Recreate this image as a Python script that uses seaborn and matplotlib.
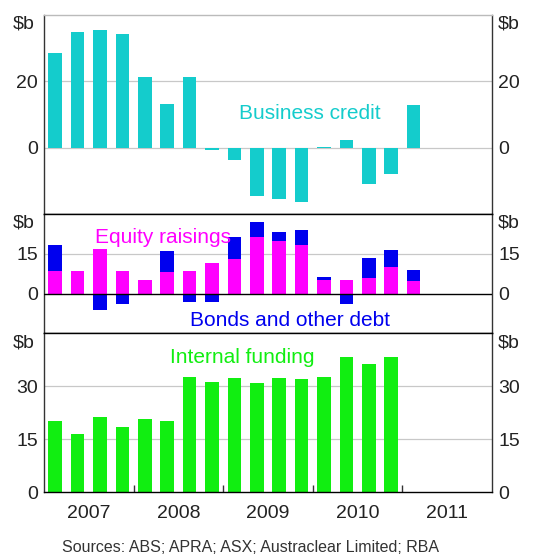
import matplotlib
matplotlib.use("Agg")
import matplotlib.pyplot as plt
import seaborn as sns
import numpy as np

# ---- data ----
years = ["2007", "2008", "2009", "2010", "2011"]
quarters = [f"{y}Q{q}" for y in years for q in range(1, 5)]

business_credit = [28.5, 34.8, 35.5, 34.2, 21.4, 13.2, 21.4, -0.6, -3.7,
                   -14.6, -15.5, -16.3, 0.3, 2.4, -11.0, -8.0, 12.8]
equity_raisings = [8.6, 8.6, 16.9, 8.6, 5.1, 8.1, 8.6, 11.5, 13.1,
                   21.4, 19.9, 18.3, 5.1, 5.1, 5.8, 10.0, 4.6]
bonds_debt = [9.7, 0.0, -6.2, -4.1, -0.5, 7.8, -3.2, -3.2, 8.3,
              5.4, 3.4, 5.5, 1.0, -4.1, 7.7, 6.4, 4.4]
internal_funding = [20.1, 16.5, 21.3, 18.4, 20.6, 20.1, 32.7, 31.3,
                    32.3, 30.9, 32.3, 32.1, 32.7, 38.3, 36.4, 38.3]

CYAN = "#14CCCC"
MAGENTA = "#FF00FF"
BLUE = "#0000EE"
GREEN = "#11EE11"

sns.set_theme(style="white")
plt.rcParams["font.family"] = ["Liberation Sans", "DejaVu Sans"]

fig = plt.figure(figsize=(5.53, 5.59), dpi=100)
gs = fig.add_gridspec(3, 1, height_ratios=[198, 119, 158], hspace=0,
                      left=44/553, right=492/553, top=1-15/559, bottom=1-492/559)
ax1 = fig.add_subplot(gs[0])
ax2 = fig.add_subplot(gs[1], sharex=ax1)
ax3 = fig.add_subplot(gs[2], sharex=ax1)

W = 0.6
bar_kw = dict(order=quarters, width=W, saturation=1, linewidth=0, errorbar=None)

# Top: business credit
sns.barplot(x=quarters[:len(business_credit)], y=business_credit, color=CYAN, ax=ax1, **bar_kw)

# Middle: equity + bonds stacked (positive bonds on top of equity)
bonds_stack = [e + b if b > 0 else b for e, b in zip(equity_raisings, bonds_debt)]
sns.barplot(x=quarters[:len(bonds_stack)], y=bonds_stack, color=BLUE, ax=ax2, **bar_kw)
sns.barplot(x=quarters[:len(equity_raisings)], y=equity_raisings, color=MAGENTA, ax=ax2, **bar_kw)

# Bottom: internal funding
sns.barplot(x=quarters[:len(internal_funding)], y=internal_funding, color=GREEN, ax=ax3, **bar_kw)

grid_c = "#c8c8c8"
spine_c = "#333333"
settings = [
    (ax1, (-20, 40), [0, 20], 20),
    (ax2, (-15, 30), [0, 15], 15),
    (ax3, (0, 45), [0, 15, 30], 15),
]
for ax, lim, ticks, step in settings:
    ax.set_ylim(*lim)
    ax.set_yticks(ticks)
    ax.set_yticklabels([str(t) for t in ticks])
    ax.set_xlim(-0.5, len(quarters) - 0.5)
    ax.set_xlabel("")
    ax.set_ylabel("")
    for g in np.arange(lim[0] + step, lim[1], step):
        if g == 0 and ax is ax2:
            continue
        ax.axhline(g, color=grid_c, lw=0.9, zorder=0)
    ax.tick_params(axis="y", left=False, right=False, labelleft=True, labelright=True,
                   length=0, labelsize=14, pad=4.5, colors="#222222")
    for side in ["left", "right", "top", "bottom"]:
        ax.spines[side].set_visible(True)
        ax.spines[side].set_color(spine_c)
        ax.spines[side].set_linewidth(1.0)
    ax.text(-0.022, 0.995, "$b", transform=ax.transAxes, ha="right", va="top",
            fontsize=14, color="#222222")
    ax.text(1.012, 0.995, "$b", transform=ax.transAxes, ha="left", va="top",
            fontsize=14, color="#222222")

ax2.axhline(0, color="black", lw=1.0, zorder=3)
ax1.spines["top"].set_color("#bbbbbb")
ax1.spines["bottom"].set_color("black")
ax2.spines["top"].set_color("black")
ax2.spines["bottom"].set_color("black")
ax3.spines["top"].set_color("black")
ax3.spines["bottom"].set_color("black")

for ax in (ax1, ax2):
    ax.tick_params(axis="x", which="both", bottom=False, top=False, labelbottom=False)

# x-axis: year boundaries as major ticks, labels at year centres
bounds = [4 * i - 0.5 for i in range(1, len(years))]
centres = [4 * i + 1.5 for i in range(len(years))]
ax3.set_xticks(bounds)
ax3.set_xticklabels([])
ax3.set_xticks(centres, minor=True)
ax3.set_xticklabels(years, minor=True)
ax3.tick_params(axis="x", which="major", direction="in", length=5, width=1,
                color=spine_c, bottom=True, top=False)
ax3.tick_params(axis="x", which="minor", length=0, pad=9, labelsize=14,
                colors="#222222", bottom=True)

# series labels
ax1.text(0.594, 0.505, "Business credit", transform=ax1.transAxes, ha="center",
         va="center", fontsize=15, color=CYAN)
ax2.text(0.266, 0.80, "Equity raisings", transform=ax2.transAxes, ha="center",
         va="center", fontsize=15, color=MAGENTA)
ax2.text(0.549, 0.11, "Bonds and other debt", transform=ax2.transAxes, ha="center",
         va="center", fontsize=15, color=BLUE)
ax3.text(0.442, 0.85, "Internal funding", transform=ax3.transAxes, ha="center",
         va="center", fontsize=15, color=GREEN)

fig.text(251/553, 1 - 547/559, "Sources: ABS; APRA; ASX; Austraclear Limited; RBA",
         ha="center", va="center", fontsize=11.5, color="#333333")

fig.savefig("out.png", dpi=100)
